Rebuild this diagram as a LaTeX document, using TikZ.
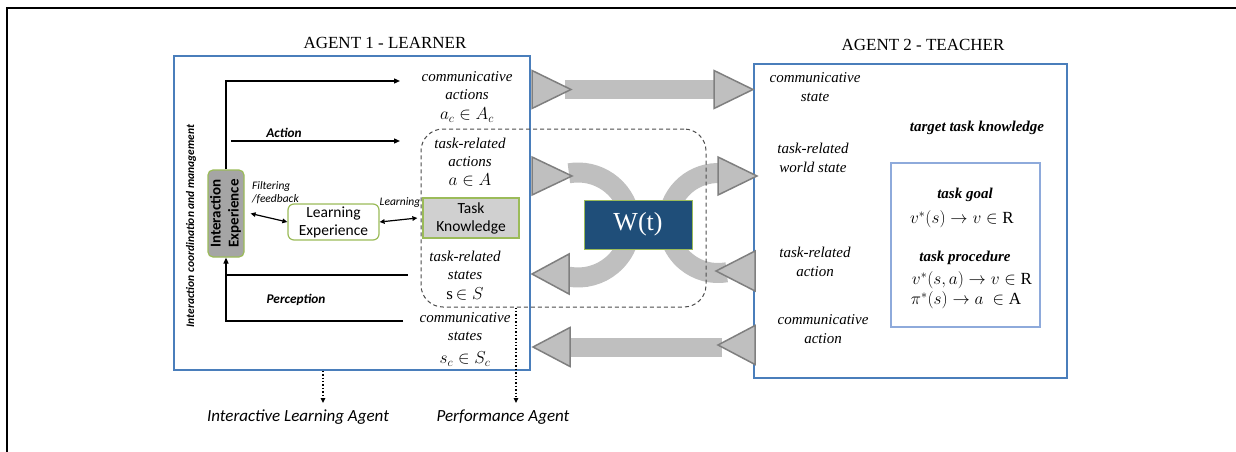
\documentclass[tikz,border=0pt]{standalone}
\usepackage{fontspec}
\usepackage{graphicx}
\setmainfont{Liberation Serif}
\newfontfamily\carlito{Carlito}
\usetikzlibrary{arrows.meta}

\definecolor{boxblue}{HTML}{4A7EBB}
\definecolor{lightblue}{HTML}{8EAADB}
\definecolor{leafgreen}{HTML}{9BBB59}
\definecolor{bandgray}{HTML}{BFBFBF}
\definecolor{edgegray}{HTML}{7F7F7F}
\definecolor{navy}{HTML}{1F4E79}
\definecolor{iegray}{HTML}{A5A5A5}
\definecolor{tkgray}{HTML}{D0D0D0}

\tikzset{
  agentbox/.style={draw=boxblue, line width=1.5pt, inner sep=0pt},
  goalbox/.style={draw=lightblue, line width=1.2pt, inner sep=0pt},
  title/.style={font=\fontsize{17}{20}\selectfont, inner sep=0pt},
  lbl/.style={font=\fontsize{15}{18}\selectfont\itshape, align=center, inner sep=0pt},
  tlbl/.style={font=\fontsize{15}{19}\selectfont\itshape, align=center, inner sep=0pt},
  blbl/.style={font=\fontsize{15}{18}\selectfont\bfseries\itshape, inner sep=0pt},
  mathlbl/.style={font=\fontsize{17}{19}\selectfont, inner sep=0pt},
  sanslbl/.style={font=\carlito\fontsize{15.5}{18}\selectfont, align=center, inner sep=0pt},
  smalllbl/.style={font=\carlito\fontsize{11.5}{13}\selectfont\itshape, align=left, inner sep=0pt},
  flowlbl/.style={font=\carlito\fontsize{13.3}{15}\selectfont\bfseries\itshape, inner sep=0pt},
  agentlbl/.style={font=\carlito\fontsize{17}{20}\selectfont\itshape, inner sep=0pt},
  greenbox/.style={draw=leafgreen, line width=1.2pt, inner sep=0pt},
  arr/.style={-{Triangle[length=6pt,width=5pt]}, line width=1.2pt},
  darr/.style={{Triangle[length=5pt,width=4.5pt]}-{Triangle[length=5pt,width=4.5pt]}, line width=1.2pt},
  dotarr/.style={-{Triangle[length=5pt,width=4.5pt]}, line width=1.4pt, dotted},
  band/.style={draw=bandgray, line width=20pt},
  tri/.style={fill=bandgray, draw=edgegray, line width=1.5pt, line join=miter},
}

\begin{document}
\begin{tikzpicture}[x=1pt,y=-1pt]
\useasboundingbox (0,0) rectangle (1236,452);

% page frame
\draw[line width=1.5pt] (1236,8) -- (7,8) -- (7,452);

% agent containers and titles
\node[agentbox, minimum width=356, minimum height=314] (learner) at (352,213) {};
\node[agentbox, minimum width=313, minimum height=314] (teacher) at (910.5,221) {};
\node[title] (t1) at (385,43) {AGENT 1 - LEARNER};
\node[title] (t2) at (923,45) {AGENT 2 - TEACHER};

% straight channels
\fill[bandgray] (565,80) rectangle (716,99);
\fill[bandgray] (565,337.5) rectangle (722,356.5);

% curved channels around the world state
\draw[band] (568.9,173.3) arc[start angle=-100, end angle=100, radius=52.5];
\draw[band] (726.7,173.8) arc[start angle=280, end angle=80, radius=50];

% performance-agent region
\node[draw=black!70, dash pattern=on 4pt off 3pt, line width=1pt, rounded corners=22pt, minimum width=285, minimum height=178, inner sep=0pt] (perf) at (563.5,218) {};

% channel heads and tails
\draw[tri] (532,70.5) -- (571,89.5) -- (532,108.5) -- cycle;
\draw[tri] (714,70.5) -- (753,89.5) -- (714,108.5) -- cycle;
\draw[tri] (570,327.5) -- (533,347) -- (570,366.5) -- cycle;
\draw[tri] (755,325.5) -- (718,345) -- (755,364.5) -- cycle;
\draw[tri] (532,157) -- (572,176) -- (532,195) -- cycle;
\draw[tri] (569,254) -- (532,274) -- (569,294) -- cycle;
\draw[tri] (718,157) -- (757,176) -- (718,195) -- cycle;
\draw[tri] (755,251) -- (716,271) -- (755,291) -- cycle;

% world state
\node[fill=navy, draw=leafgreen, line width=1pt, minimum width=108, minimum height=49, inner sep=0pt,
      text=white, font=\fontsize{26}{30}\selectfont] (W) at (638,224.5) {W(t)};

% learner internals
\node[font=\carlito\fontsize{11.5}{13}\selectfont\bfseries\itshape, rotate=90, inner sep=0pt] (coord) at (191,226)
  {Interaction coordination and management};
\node[greenbox, fill=iegray, rounded corners=5pt, minimum width=36, minimum height=87] (IE) at (226,213.5)
  {\rotatebox{90}{\carlito\fontsize{15}{18}\selectfont\bfseries\begin{tabular}{@{}c@{}}Interaction\\Experience\end{tabular}}};
\node[greenbox, fill=white, rounded corners=6pt, minimum width=91, minimum height=36, sanslbl] (LE) at (333.5,222)
  {Learning\\Experience};
\node[greenbox, fill=tkgray, minimum width=96, minimum height=40, sanslbl] (TK) at (471,218)
  {Task\\Knowledge};

\node[lbl] (ca) at (467,86) {communicative\\actions};
\node[mathlbl] (cam) at (467,115) {$a_c\in A_c$};
\node[lbl] (ta) at (470,152) {task-related\\actions};
\node[mathlbl] (tam) at (470,180) {$a\in A$};
\node[lbl] (ts) at (465,265) {task-related\\states};
\node[mathlbl] (tsm) at (465,294) {\textup{s}$\,\in S$};
\node[lbl] (cs) at (465,327) {communicative\\states};
\node[mathlbl] (csm) at (465,359) {$s_c\in S_c$};

\node[flowlbl] (actlbl) at (284,133) {Action};
\node[flowlbl] (perclbl) at (296,300) {Perception};
\node[smalllbl, anchor=west] (filt) at (252,193) {Filtering\\/feedback};
\node[smalllbl] (learnlbl) at (400,203) {Learning};

% learner connectors
\coordinate (caEnd) at (400,81);
\coordinate (actStart) at (231,141);
\coordinate (actEnd) at (400,141);
\coordinate (pUpStart) at (226,275);
\coordinate (pUpEnd) at (408,275);
\coordinate (pLoEnd) at (403,321);
\draw[arr] (IE.north) |- (caEnd);
\draw[arr] (actStart) -- (actEnd);
\draw[darr] ([xshift=6pt]IE.east) -- (LE.west);
\draw[darr] (LE.east) -- ([xshift=-5pt]TK.west);
\draw[line width=1.2pt] (pUpStart) -- (pUpEnd);
\draw[arr] (pLoEnd) -| (IE.south);

% teacher internals
\node[goalbox, minimum width=149, minimum height=164] (goal) at (965.5,245) {};
\node[tlbl] (cst) at (815,87.5) {communicative\\state};
\node[tlbl] (wst) at (813,157.5) {task-related\\world state};
\node[tlbl] (tac) at (815,261.5) {task-related\\action};
\node[tlbl] (cac) at (823,329) {communicative\\action};
\node[blbl] (ttk) at (977,128) {target task knowledge};
\node[blbl] (tg) at (965,195) {task goal};
\node[mathlbl] (m1) at (962,219) {$v^*(s)\to v\in \mathrm{R}$};
\node[blbl] (tp) at (965,258) {task procedure};
\node[mathlbl] (m2) at (972,280) {$v^*(s,a)\to v\in \mathrm{R}$};
\node[mathlbl] (m3) at (966,300) {$\pi^*(s)\to a\ \in \mathrm{A}$};

% agent roles
\coordinate (ilaTip) at (323,403);
\coordinate (paTip) at (516,403);
\draw[dotarr] (learner.south -| ilaTip) -- (ilaTip);
\draw[dotarr] (perf.south -| paTip) -- (paTip);
\node[agentlbl] (ila) at (298,417) {Interactive Learning Agent};
\node[agentlbl] (pa) at (503,417) {Performance Agent};
\end{tikzpicture}
\end{document}
